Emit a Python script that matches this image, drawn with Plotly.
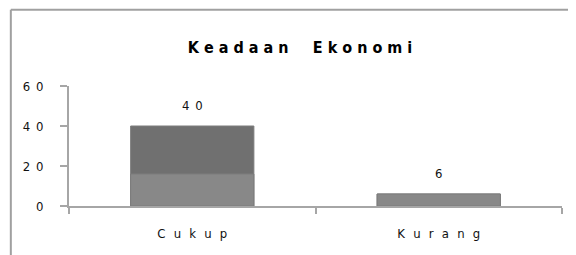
import numpy as np
import plotly.graph_objects as go

# Data
categories = ["Cukup", "Kurang"]
values = [40, 6]
y_tick_values = [0, 20, 40, 60]
title_text = "Keadaan Ekonomi"

def spaced(s, sep=" ", word_gap="\u2003"):
    # the reference draws every label with wide letter spacing
    return sep.join((word_gap if ch == " " else ch) for ch in s)

FONT = "DejaVu Sans Condensed, Liberation Sans Narrow, Arial Narrow, sans-serif"
cat_labels = [spaced(c, "\u2002\u2009") for c in categories]
value_labels = [spaced(str(v), "\u2002") for v in values]

# lighter lower band of the bar fill (gradient look of the original)
band_level = 16
lower_band = list(np.minimum(values, band_level))

fig = go.Figure()
fig.add_trace(go.Bar(
    x=cat_labels, y=values, width=0.5,
    marker=dict(color="#707070", line=dict(color="#7c7c7c", width=1)),
    hoverinfo="x+y", showlegend=False,
))
fig.add_trace(go.Bar(
    x=cat_labels, y=lower_band, width=0.5,
    marker=dict(color="#888888", line=dict(color="#7c7c7c", width=1)),
    hoverinfo="skip", showlegend=False,
))

for c, v, t in zip(cat_labels, values, value_labels):
    fig.add_annotation(x=c, y=v, text=t, showarrow=False, yshift=21,
                       font=dict(family=FONT, size=13, color="#111"))

border = dict(color="#a0a0a0", width=2)
# the page adds an 8px body margin, so the figure is offset by 8px
fig.update_layout(
    width=576, height=255,
    margin=dict(l=61, r=22, t=78, b=57, autoexpand=False),
    paper_bgcolor="white", plot_bgcolor="white",
    barmode="overlay",
    title=dict(text="<b>" + spaced(title_text, " ", "\u2003") + "</b>",
               x=0.507, xanchor="center", y=0.847, yanchor="middle",
               font=dict(family=FONT, size=16, color="#000")),
    shapes=[
        dict(type="line", xref="paper", yref="paper",
             x0=-0.118, x1=1.2, y0=1.635, y1=1.635, line=border),
        dict(type="line", xref="paper", yref="paper",
             x0=-0.118, x1=-0.118, y0=-0.5, y1=1.635, line=border),
    ],
)
fig.update_yaxes(
    range=[0, 60], tickvals=y_tick_values,
    ticktext=[spaced(str(v), "\u2002") for v in y_tick_values],
    showgrid=False, zeroline=False, automargin=False,
    showline=True, linecolor="#a6a6a6", linewidth=2,
    ticks="outside", ticklen=7, tickcolor="#a6a6a6", tickwidth=2,
    ticklabelstandoff=14,
    tickfont=dict(family=FONT, size=13, color="#111"),
)
fig.update_xaxes(
    showgrid=False, showline=True, linecolor="#a6a6a6", linewidth=2,
    automargin=False,
    ticks="outside", tickson="boundaries", ticklen=6, tickcolor="#a6a6a6", tickwidth=2,
    ticklabelstandoff=14,
    tickfont=dict(family=FONT, size=13, color="#111"),
)

fig.write_html("out.html")
